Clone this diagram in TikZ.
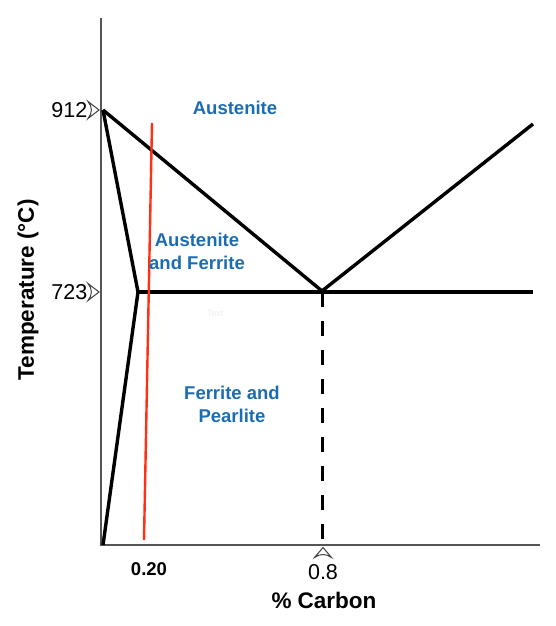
\documentclass[tikz,border=0pt]{standalone}
\usepackage{fontspec}
\setmainfont{Liberation Sans}
\definecolor{phaseblue}{RGB}{28,108,176}
\definecolor{redline}{RGB}{255,48,20}
\definecolor{axisgray}{RGB}{85,85,85}
\begin{document}
\begin{tikzpicture}[x=1pt,y=-1pt,
  axisline/.style={draw=axisgray,line width=2pt},
  phaseline/.style={draw=black,line width=3.4pt,line join=round},
  dashline/.style={draw=black,line width=3pt,dash pattern=on 15pt off 14pt,dash phase=-1pt},
  markshape/.style={draw=black!75,line width=1pt,fill=white,line join=miter},
  phaselabel/.style={text=phaseblue,font=\bfseries\fontsize{18.5}{23}\selectfont,align=center,inner sep=0pt},
  ticklabel/.style={font=\fontsize{21.5}{25}\selectfont,inner sep=0pt},
  axislabel/.style={font=\bfseries\fontsize{22.5}{26}\selectfont,inner sep=0pt}]
\useasboundingbox (0,0) rectangle (556,626);
% key points
\coordinate (yt) at (101,18);
\coordinate (org) at (101,545);
\coordinate (xr) at (540,545);
\coordinate (A) at (103,110);
\coordinate (E) at (322,291);
\coordinate (R) at (533,124);
\coordinate (J) at (138,292);
\coordinate (H) at (533,292);
\coordinate (O) at (103,545);
\coordinate (B) at (322,545);
\coordinate (r1) at (152,123);
\coordinate (r2) at (144,540);
% axes
\draw[axisline] (yt) -- (org) -- (xr);
% phase boundaries
\draw[phaseline] (A) -- (E) -- (R);
\draw[phaseline] (J) -- (H);
\draw[phaseline] (A) -- (J) -- (O);
\draw[dashline] (E) -- (B);
% red composition line
\draw[redline,line width=2.4pt] (r1) -- (r2);
% markers
\draw[markshape] (88,101.5) -- (99,110) -- (88,118.5) .. controls (92.5,113) and (92.5,107) .. cycle;
\draw[markshape] (88,283.5) -- (99,292) -- (88,300.5) .. controls (92.5,295) and (92.5,289) .. cycle;
\draw[markshape] (314.5,557.5) -- (323,547.5) -- (331.5,557.5) .. controls (326,553.5) and (320,553.5) .. cycle;
% tick labels
\node[ticklabel,anchor=east] (t912) at (87.5,110) {912};
\node[ticklabel,anchor=east] (t723) at (87.5,292) {723};
\node[ticklabel] (t08) at (323,572) {0.8};
\node[font=\bfseries\fontsize{18.5}{22}\selectfont,inner sep=0pt] (t020) at (149,569) {0.20};
% axis labels
\node[axislabel] (xlab) at (324,600) {\% Carbon};
\node[axislabel,rotate=90] (ylab) at (28,290) {Temperature (°C)};
% phase labels
\node[phaselabel] (aus) at (235,108) {Austenite};
\node[phaselabel] (ausf) at (197,251) {Austenite\\and Ferrite};
\node[phaselabel] (fp) at (232,404) {Ferrite and\\Pearlite};
\node[text=black!7,font=\fontsize{9}{10}\selectfont,inner sep=0pt] (ghost) at (215,313) {Text};
\end{tikzpicture}
\end{document}
